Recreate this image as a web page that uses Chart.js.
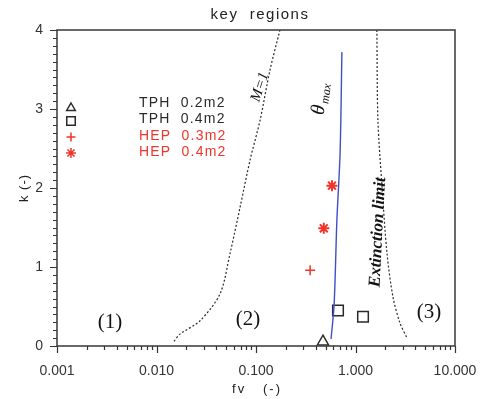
<!DOCTYPE html>
<html>
<head>
<meta charset="utf-8">
<script src="https://cdn.jsdelivr.net/npm/chart.js@4.4.0/dist/chart.umd.min.js"></script>
<style>
  html, body { margin: 0; padding: 0; background: #fff; }
</style>
</head>
<body>
<canvas id="chart" width="480" height="399"></canvas>
<script>
// axis ticks
const xTicks = [0.001, 0.01, 0.1, 1, 10];
const yTicks = [0, 1, 2, 3, 4];

// dotted M=1 curve
const m1X = [0.015, 0.0172, 0.0274, 0.0435, 0.0548, 0.069, 0.087, 0.11, 0.138, 0.174];
const m1Y = [0.06, 0.15, 0.32, 0.66, 1.17, 1.75, 2.35, 2.86, 3.49, 4.0];

// blue theta max line
const thX = [0.568, 0.61, 0.65, 0.70, 0.73];
const thY = [0.09, 0.53, 1.59, 2.44, 3.72];

// dotted extinction limit
const extX = [1.64, 1.68, 1.85, 2.07, 2.38, 2.8, 3.3];
const extY = [4.0, 2.86, 2.01, 1.18, 0.62, 0.29, 0.10];

// measurements
const tph02X = [0.471];
const tph02Y = [0.055];
const tph04X = [0.667, 1.19];
const tph04Y = [0.45, 0.37];
const hep03X = [0.35];
const hep03Y = [0.96];
const hep04X = [0.48, 0.58];
const hep04Y = [1.49, 2.03];

const legendNames = ['TPH  0.2m2', 'TPH  0.4m2', 'HEP  0.3m2', 'HEP  0.4m2'];

// text notes in data coordinates
const regionLabels = [
  { text: '(1)', x: 0.00341, y: 0.30 },
  { text: '(2)', x: 0.0831, y: 0.33 },
  { text: '(3)', x: 5.48, y: 0.42 }
];

const DARK = '#2a2a2a';
const RED = '#f0352a';
const BLUE = '#4050c4';

const pts = (xs, ys) => xs.map((x, i) => ({ x: x, y: ys[i] }));

function drawPointShape(ctx, style, x, y, r, color) {
  ctx.save();
  ctx.strokeStyle = color;
  ctx.lineWidth = 1.5;
  ctx.beginPath();
  if (style === 'triangle') {
    ctx.moveTo(x, y - r);
    ctx.lineTo(x + r * 0.866, y + r / 2);
    ctx.lineTo(x - r * 0.866, y + r / 2);
    ctx.closePath();
  } else if (style === 'rect') {
    const s = r * Math.SQRT1_2;
    ctx.rect(x - s, y - s, 2 * s, 2 * s);
  } else if (style === 'cross') {
    ctx.moveTo(x - r, y); ctx.lineTo(x + r, y);
    ctx.moveTo(x, y - r); ctx.lineTo(x, y + r);
  } else {
    const d = r * 0.707;
    ctx.moveTo(x - r, y); ctx.lineTo(x + r, y);
    ctx.moveTo(x, y - r); ctx.lineTo(x, y + r);
    ctx.moveTo(x - d, y - d); ctx.lineTo(x + d, y + d);
    ctx.moveTo(x - d, y + d); ctx.lineTo(x + d, y - d);
  }
  ctx.stroke();
  ctx.restore();
}

const decorations = {
  id: 'decorations',
  afterDraw(chart) {
    const ctx = chart.ctx;
    const a = chart.chartArea;
    const xs = chart.scales.x;
    const ys = chart.scales.y;
    ctx.save();

    // frame
    ctx.strokeStyle = '#444';
    ctx.lineWidth = 1.6;
    ctx.strokeRect(a.left, a.top, a.right - a.left, a.bottom - a.top);

    // y ticks, every 0.1
    ctx.lineWidth = 1.2;
    ctx.strokeStyle = '#333';
    ctx.beginPath();
    for (let i = 0; i <= 40; i++) {
      const py = Math.round(ys.getPixelForValue(i / 10)) + 0.5;
      const len = i % 10 === 0 ? 7 : 4;
      ctx.moveTo(a.left - len, py);
      ctx.lineTo(a.left, py);
    }
    // x ticks, log minor
    for (let d = -3; d <= 1; d++) {
      for (let k = 1; k <= 9; k++) {
        const v = k * Math.pow(10, d);
        if (v > 10.0001) break;
        const px = Math.round(xs.getPixelForValue(v)) + 0.5;
        const len = k === 1 ? 7 : 4;
        ctx.moveTo(px, a.bottom);
        ctx.lineTo(px, a.bottom + len);
      }
    }
    ctx.stroke();

    // title and axis titles
    ctx.fillStyle = '#222';
    ctx.textAlign = 'center';
    ctx.textBaseline = 'middle';
    ctx.font = '15px "Liberation Sans", Arial, sans-serif';
    ctx.letterSpacing = '1.5px';
    ctx.fillText('key  regions', (a.left + a.right) / 2 + 4, 15);
    ctx.font = '13px "Liberation Sans", Arial, sans-serif';
    ctx.letterSpacing = '2px';
    ctx.fillText('fv   (-)', (a.left + a.right) / 2 + 1, 389);
    ctx.letterSpacing = '1px';
    ctx.save();
    ctx.translate(24, (a.top + a.bottom) / 2);
    ctx.rotate(-Math.PI / 2);
    ctx.fillText('k (-)', 0, 0);
    ctx.restore();

    // legend
    ctx.textAlign = 'left';
    ctx.font = '14px "Liberation Sans", Arial, sans-serif';
    ctx.letterSpacing = '1.2px';
    const styles = ['triangle', 'rect', 'cross', 'star'];
    const radii = [5, 6, 4.5, 5];
    const symY = [108, 121, 137, 153];
    const txtY = [103, 119.5, 136, 152];
    legendNames.forEach((name, i) => {
      const col = i < 2 ? DARK : RED;
      drawPointShape(ctx, styles[i], 71, symY[i], radii[i], col);
      ctx.fillStyle = col;
      ctx.fillText(name, 139, txtY[i]);
    });
    ctx.letterSpacing = '0px';

    // region labels
    ctx.fillStyle = '#111';
    ctx.textAlign = 'center';
    ctx.font = '21px "Liberation Serif", "Times New Roman", serif';
    regionLabels.forEach(r => {
      ctx.fillText(r.text, xs.getPixelForValue(r.x), ys.getPixelForValue(r.y));
    });

    // rotated curve labels
    ctx.save();
    ctx.translate(xs.getPixelForValue(0.1096), ys.getPixelForValue(3.28));
    ctx.rotate(-72 * Math.PI / 180);
    ctx.font = 'italic 15px "Liberation Serif", "Times New Roman", serif';
    ctx.fillText('M=1', 0, 0);
    ctx.restore();

    ctx.save();
    ctx.translate(xs.getPixelForValue(0.44), ys.getPixelForValue(3.14));
    ctx.rotate(-82 * Math.PI / 180);
    ctx.textAlign = 'left';
    ctx.textBaseline = 'alphabetic';
    ctx.font = 'italic 20px "Liberation Serif", "Times New Roman", serif';
    ctx.fillText('\u03b8', -17, 6);
    ctx.font = 'italic 12px "Liberation Serif", "Times New Roman", serif';
    ctx.fillText('max', -5, 9);
    ctx.restore();

    ctx.save();
    ctx.translate(xs.getPixelForValue(1.68), ys.getPixelForValue(1.44));
    ctx.rotate(-87 * Math.PI / 180);
    ctx.font = 'italic bold 17px "Liberation Serif", "Times New Roman", serif';
    ctx.fillText('Extinction limit', 0, 0);
    ctx.restore();

    ctx.restore();
  }
};

const lineBase = { showLine: true, pointRadius: 0, tension: 0.3, fill: false, clip: false };
const markBase = { showLine: false, backgroundColor: 'transparent', borderWidth: 1.5, clip: false };

new Chart(document.getElementById('chart'), {
  type: 'scatter',
  data: {
    datasets: [
      { ...lineBase, label: 'M=1', data: pts(m1X, m1Y), borderColor: DARK, borderWidth: 1.2, borderDash: [2, 2] },
      { ...lineBase, label: 'theta max', data: pts(thX, thY), borderColor: BLUE, borderWidth: 1.4 },
      { ...lineBase, label: 'Extinction limit', data: pts(extX, extY), borderColor: DARK, borderWidth: 1.2, borderDash: [2, 2] },
      { ...markBase, label: legendNames[0], data: pts(tph02X, tph02Y), pointStyle: 'triangle', pointRadius: 6.5, borderColor: DARK },
      { ...markBase, label: legendNames[1], data: pts(tph04X, tph04Y), pointStyle: 'rect', pointRadius: 7.5, borderColor: DARK },
      { ...markBase, label: legendNames[2], data: pts(hep03X, hep03Y), pointStyle: 'cross', pointRadius: 5, borderColor: RED },
      { ...markBase, label: legendNames[3], data: pts(hep04X, hep04Y), pointStyle: 'star', pointRadius: 5.5, borderColor: RED, borderWidth: 2 }
    ]
  },
  options: {
    responsive: false,
    animation: false,
    devicePixelRatio: 1,
    layout: { padding: { top: 30, right: 25, left: 0, bottom: 0 } },
    plugins: { legend: { display: false }, tooltip: { enabled: false }, title: { display: false } },
    scales: {
      x: {
        type: 'logarithmic',
        min: 0.001,
        max: 10,
        grid: { display: false, drawTicks: false },
        border: { display: false },
        afterBuildTicks: scale => { scale.ticks = xTicks.map(v => ({ value: v })); },
        afterFit: scale => {
          scale.height = 53;
          scale.paddingLeft = 0;
          scale.paddingRight = 0;
        },
        ticks: {
          autoSkip: false,
          maxRotation: 0,
          padding: 17,
          color: '#333',
          font: { family: '"Liberation Sans", Arial, sans-serif', size: 14 },
          callback: v => Number(v).toFixed(3)
        }
      },
      y: {
        min: 0,
        max: 4,
        grid: { display: false, drawTicks: false },
        border: { display: false },
        afterBuildTicks: scale => { scale.ticks = yTicks.map(v => ({ value: v })); },
        afterFit: scale => {
          scale.width = 57;
          scale.paddingTop = 0;
          scale.paddingBottom = 0;
        },
        ticks: {
          padding: 14,
          color: '#333',
          font: { family: '"Liberation Sans", Arial, sans-serif', size: 14 }
        }
      }
    }
  },
  plugins: [decorations]
});
</script>
</body>
</html>
